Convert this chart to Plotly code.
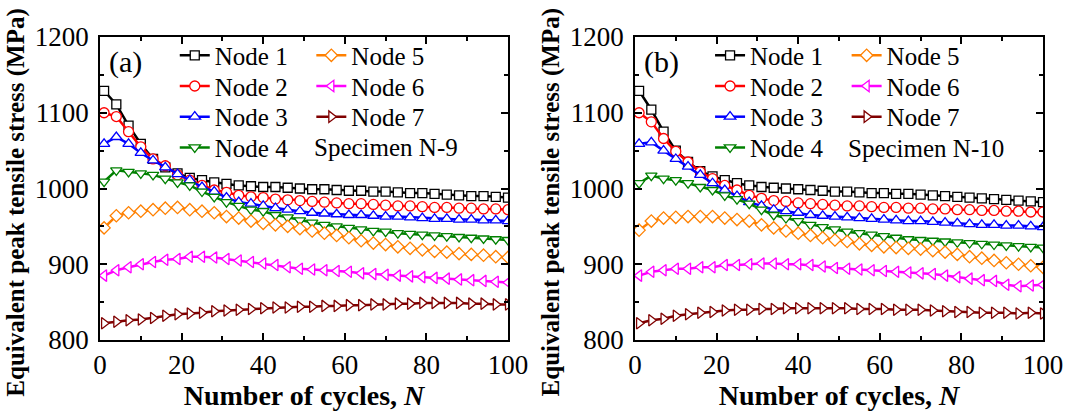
import plotly.graph_objects as go

cycles = list(range(1, 101, 3))

node_names = ["Node 1", "Node 2", "Node 3", "Node 4", "Node 5", "Node 6", "Node 7"]

a_node1 = [1129,1111,1083,1059,1039,1028,1020,1014,1011,1008,1006,1004,1003,1002,1002,1001,1000,999,999,998,997,997,996,996,995,994,994,993,992,991,990,990,989,988]
a_node2 = [1100,1095,1075,1055,1039,1030,1018,1011,1004,998,995,991,989,988,986,985,984,983,982,981,980,980,979,978,977,977,976,975,975,974,974,973,973,972]
a_node3 = [1059,1068,1059,1047,1037,1028,1019,1011,1002,996,988,982,980,977,974,972,970,968,967,966,965,965,964,963,963,962,961,960,960,959,959,958,958,957]
a_node4 = [1009,1024,1022,1020,1018,1013,1008,1004,996,989,982,977,972,970,965,962,958,955,952,950,948,946,944,943,941,940,939,938,937,936,935,934,933,932]
a_node5 = [948,964,968,970,972,974,975,972,970,968,963,961,957,954,952,950,947,944,941,938,935,931,928,926,923,921,919,917,916,914,913,912,910,909]
a_node6 = [885,892,896,900,903,906,907,910,910,909,907,905,903,901,899,896,894,893,892,891,890,888,887,886,885,884,883,882,881,880,879,878,877,876]
a_node7 = [822,824,826,827,829,832,834,835,836,838,839,840,841,842,843,843,844,844,845,845,846,846,847,847,848,848,849,849,849,849,848,848,847,847]

b_node1 = [1129,1104,1075,1050,1035,1023,1016,1011,1007,1004,1002,1001,1000,999,998,997,996,996,995,994,994,993,993,992,991,990,989,988,987,986,985,984,983,982]
b_node2 = [1100,1088,1066,1049,1035,1022,1013,1004,998,991,987,984,983,981,980,979,978,977,977,976,975,975,974,974,973,973,972,972,971,971,970,970,969,969]
b_node3 = [1059,1061,1050,1039,1029,1018,1007,998,990,982,977,972,970,968,965,964,963,962,961,960,959,958,957,957,956,955,954,953,952,952,951,951,950,949]
b_node4 = [1007,1017,1013,1011,1007,1002,998,991,986,980,972,965,961,957,952,949,946,943,941,939,937,935,933,932,931,930,929,928,927,926,925,924,923,922]
b_node5 = [945,957,961,962,963,963,963,961,959,957,952,948,944,941,938,935,932,930,927,925,923,922,921,920,918,916,913,910,908,905,902,900,898,896]
b_node6 = [885,890,892,894,894,896,896,899,899,900,901,901,900,900,899,897,895,894,893,892,891,890,889,888,887,885,883,881,879,878,873,871,872,873]
b_node7 = [822,826,828,832,834,836,837,839,840,840,841,841,842,842,842,842,842,842,841,841,841,840,840,840,839,838,837,837,836,836,836,835,836,835]

panel_a = [a_node1, a_node2, a_node3, a_node4, a_node5, a_node6, a_node7]
panel_b = [b_node1, b_node2, b_node3, b_node4, b_node5, b_node6, b_node7]

colors = ["#000000", "#ff0000", "#0000ff", "#008000", "#ff8000", "#ff00ff", "#800000"]
symbols = ["square", "circle", "triangle-up", "triangle-down",
           "diamond", "triangle-left", "triangle-right"]
msizes = [9, 10, 10, 10, 9.5, 10, 10]

FONT = "Liberation Serif"
W, H = 1075, 414
L, R, T, B = 100, 29, 37, 71
PW, PH = W - L - R, H - T - B

def px_x(px):
    return (px - L) / PW

def px_y(py):
    return 1 - (py - T) / PH

# legend layout (pixels): row centres, column symbol-left positions
row_px = [56, 87, 118, 149]
col_px = {"a": [175, 312], "b": [712, 849]}
LEG_OFF = 23.5  # distance from legend top to first item centre

fig = go.Figure()
legend_layouts = {}
leg_idx = 0
for pname, panel, xa, ya in [("a", panel_a, "x", "y"), ("b", panel_b, "x2", "y2")]:
    for i, vals in enumerate(panel):
        leg_idx += 1
        lname = "legend" if leg_idx == 1 else f"legend{leg_idx}"
        col = 0 if i < 4 else 1
        row = i if i < 4 else i - 4
        legend_layouts[lname] = dict(
            font=dict(family=FONT, size=25, color="black"), bgcolor="rgba(0,0,0,0)",
            borderwidth=0, xanchor="left", yanchor="top",
            x=px_x(col_px[pname][col]), y=px_y(row_px[row] - LEG_OFF),
            itemsizing="trace", orientation="v")
        fig.add_trace(go.Scatter(
            x=cycles, y=vals, xaxis=xa, yaxis=ya,
            mode="lines+markers", name=node_names[i],
            line=dict(color=colors[i], width=2.5),
            marker=dict(symbol=symbols[i], size=msizes[i], color="white",
                        line=dict(width=1.3, color=colors[i])),
            legend=lname, showlegend=True,
        ))

axis_common = dict(
    showline=True, linecolor="black", linewidth=1.5, mirror="ticks",
    ticks="inside", ticklen=7, tickwidth=1.5, tickcolor="black",
    showgrid=False, zeroline=False,
    tickfont=dict(family=FONT, size=27, color="black"),
)

xa_common = dict(axis_common, range=[0, 100], dtick=20, tick0=0,
                 minor=dict(dtick=10, ticks="inside", ticklen=4, tickwidth=1.5, tickcolor="black"),
                 title=dict(text="<b>Number of cycles, <i>N</i></b>",
                            font=dict(family=FONT, size=28, color="black"), standoff=2))
ya_common = dict(axis_common, range=[800, 1200], dtick=100, tick0=800,
                 ticklabelstandoff=4,
                 minor=dict(dtick=50, ticks="inside", ticklen=4, tickwidth=1.5, tickcolor="black"))

dom_a_end = 409.3 / PW
dom_b_start = (636.7 - L) / PW

ytitle = "<b>Equivalent peak tensile stress (MPa)</b>"
annotations = [
    dict(text="(a)", xref="x domain", yref="y domain", x=0.016, y=0.918,
         xanchor="left", yanchor="middle", showarrow=False,
         font=dict(family=FONT, size=30, color="black")),
    dict(text="(b)", xref="x2 domain", yref="y2 domain", x=0.016, y=0.918,
         xanchor="left", yanchor="middle", showarrow=False,
         font=dict(family=FONT, size=30, color="black")),
    dict(text="Specimen N-9", xref="paper", yref="paper", x=px_x(313), y=px_y(149),
         xanchor="left", yanchor="middle", showarrow=False,
         font=dict(family=FONT, size=25, color="black")),
    dict(text="Specimen N-10", xref="paper", yref="paper", x=px_x(848), y=px_y(150),
         xanchor="left", yanchor="middle", showarrow=False,
         font=dict(family=FONT, size=25, color="black")),
    dict(text=ytitle, xref="paper", yref="paper", x=px_x(16), y=px_y(204),
         xanchor="center", yanchor="middle", textangle=-90, showarrow=False,
         font=dict(family=FONT, size=25, color="black")),
    dict(text=ytitle, xref="paper", yref="paper", x=px_x(552.5), y=px_y(204),
         xanchor="center", yanchor="middle", textangle=-90, showarrow=False,
         font=dict(family=FONT, size=25, color="black")),
]

fig.update_layout(
    width=W, height=H,
    margin=dict(l=L, r=R, t=T, b=B),
    paper_bgcolor="white", plot_bgcolor="white",
    font=dict(family=FONT, color="black"),
    xaxis=dict(xa_common, domain=[0, dom_a_end], anchor="y"),
    yaxis=dict(ya_common, anchor="x"),
    xaxis2=dict(xa_common, domain=[dom_b_start, 1.0], anchor="y2"),
    yaxis2=dict(ya_common, anchor="x2"),
    annotations=annotations,
    **legend_layouts,
)

fig.write_html("out.html")
